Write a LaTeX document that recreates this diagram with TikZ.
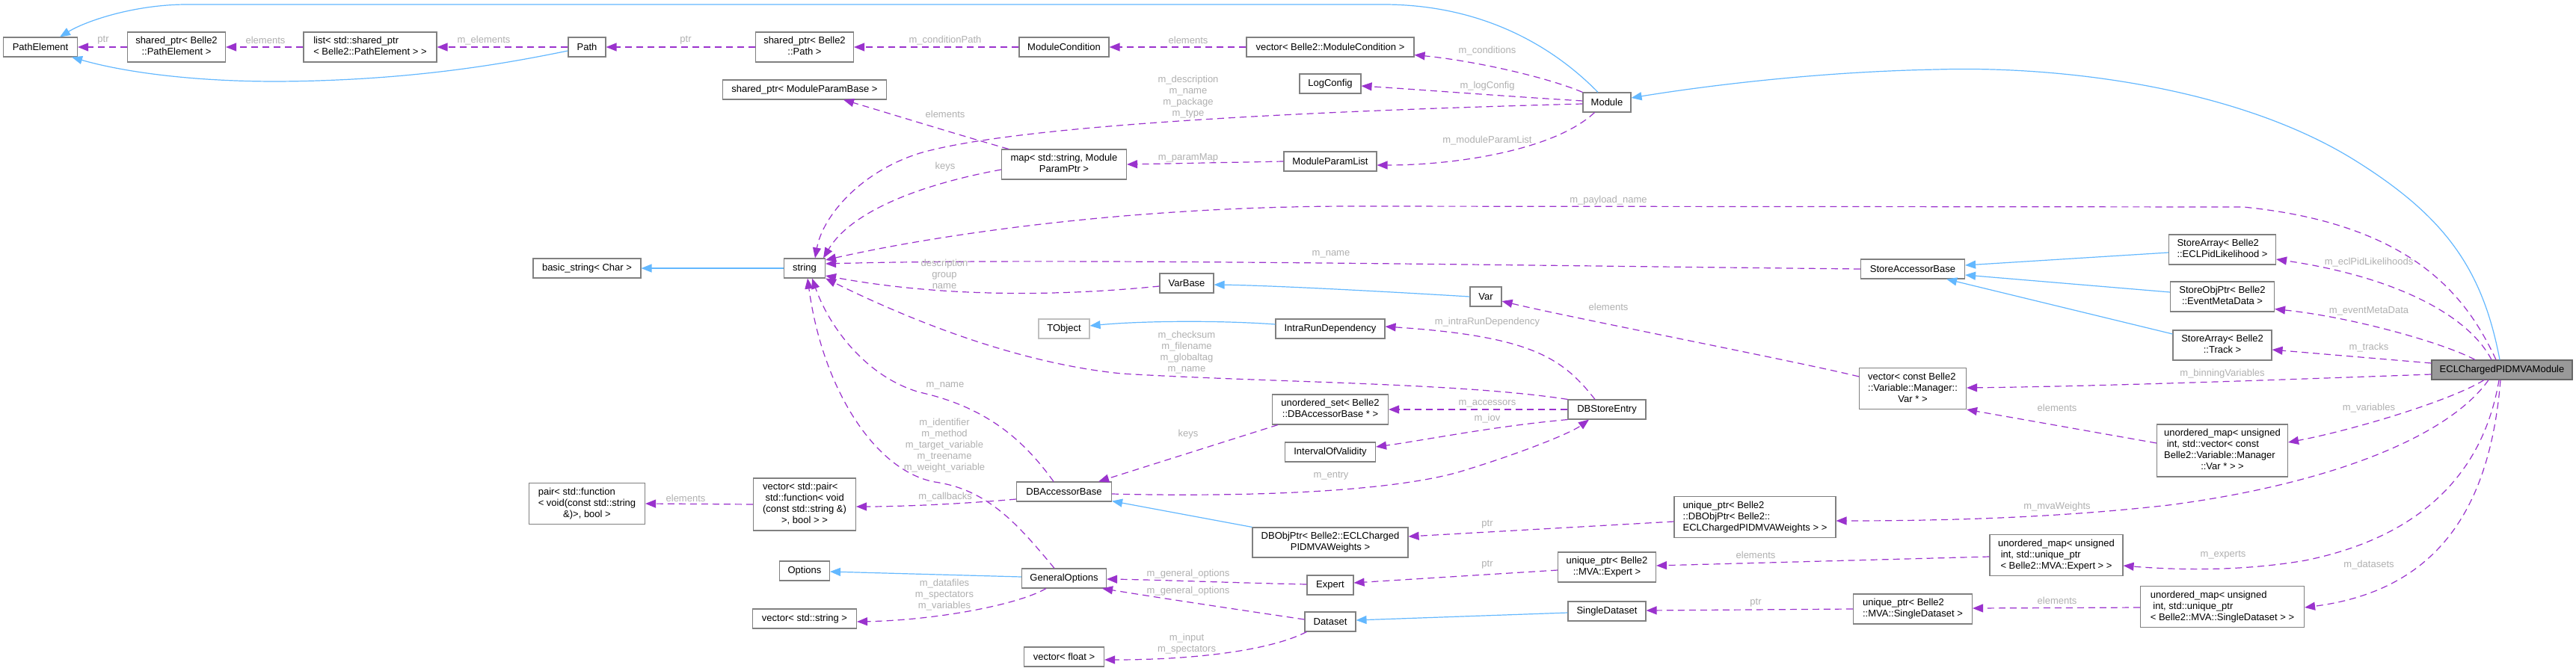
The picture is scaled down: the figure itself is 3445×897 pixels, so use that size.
\documentclass[tikz,border=0pt]{standalone}
\usepackage{fontspec}
\setmainfont{Liberation Sans}
\usetikzlibrary{arrows.meta,calc}
\definecolor{nodegray}{HTML}{808080}
\definecolor{extgray}{HTML}{BFBFBF}
\definecolor{maingray}{HTML}{999999}
\definecolor{mainborder}{HTML}{666666}
\definecolor{inhblue}{HTML}{63B8FF}
\definecolor{usepurple}{HTML}{9A32CD}
\definecolor{labgray}{HTML}{B0B0B0}
\newcommand{\mlab}[2]{\begin{tabular}{@{}l@{}}#1\\\multicolumn{1}{@{}c@{}}{#2}\end{tabular}}
\begin{document}
\begin{tikzpicture}[x=1pt,y=-1pt,
 box/.style={draw=nodegray, line width=1.1pt, fill=white, inner sep=0pt, font=\fontsize{13}{15}\selectfont, text=black},
 sz/.style 2 args={minimum width=#1pt, minimum height=#2pt},
 usedge/.style={draw=usepurple, line width=1.2pt, dash pattern=on 9pt off 6pt, -{Triangle[length=14pt,width=11pt]}},
 inhedge/.style={draw=inhblue, line width=1.2pt, -{Triangle[length=14pt,width=11pt]}},
 elab/.style={inner sep=0pt, text=labgray, font=\fontsize{13}{15}\selectfont, align=center}]
\useasboundingbox[fill=white] (0,0) rectangle (3445,897);

% nodes
\node[box,sz={99}{26}] (PE) at (54,63) {PathElement};
\node[box,sz={131}{40}] (spPE) at (236,63) {\mlab{shared\_ptr< Belle2}{::PathElement >}};
\node[box,sz={178}{40}] (listPE) at (495,63) {\mlab{list< std::shared\_ptr}{< Belle2::PathElement > >}};
\node[box,sz={50}{26}] (Path) at (785,63) {Path};
\node[box,sz={131}{40}] (spPath) at (1076,63) {\mlab{shared\_ptr< Belle2}{::Path >}};
\node[box,sz={219}{26}] (spMPB) at (1076,120) {shared\_ptr< ModuleParamBase >};
\node[box,sz={120}{26}] (MC) at (1423,63) {ModuleCondition};
\node[box,sz={224}{26}] (vecMC) at (1779,63) {vector< Belle2::ModuleCondition >};
\node[box,sz={82}{26}] (LogConfig) at (1779,112) {LogConfig};
\node[box,sz={64}{26}] (Module) at (2149,137) {Module};
\node[box,sz={167}{40}] (map) at (1423,220) {\mlab{map< std::string, Module}{ParamPtr >}};
\node[box,sz={124}{26}] (MPL) at (1779,216) {ModuleParamList};
\node[box,sz={144}{26}] (basic) at (785,359) {basic\_string< Char >};
\node[box,sz={55}{26}] (string) at (1076,359) {string};
\node[box,sz={72}{26}] (VarBase) at (1587,379) {VarBase};
\node[box,draw=extgray,sz={68}{26}] (TObject) at (1423,440) {TObject};
\node[box,sz={146}{26}] (IRD) at (1779,440) {IntraRunDependency};
\node[box,sz={42}{26}] (Var) at (1987,397) {Var};
\node[box,sz={139}{26}] (SAB) at (2558,360) {StoreAccessorBase};
\node[box,sz={143}{40}] (SAEcl) at (2972,334) {\mlab{StoreArray< Belle2}{::ECLPidLikelihood >}};
\node[box,sz={139}{40}] (SOP) at (2972,397) {\mlab{StoreObjPtr< Belle2}{::EventMetaData >}};
\node[box,sz={132}{40}] (SATrack) at (2972,462) {\mlab{StoreArray< Belle2}{::Track >}};
\node[box,draw=mainborder,fill=maingray,sz={188}{26}] (ECL) at (3346,495) {ECLChargedPIDMVAModule};
\node[box,sz={143}{55}] (vecVar) at (2558,520) {\mlab{vector< const Belle2\\::Variable::Manager::}{Var * >}};
\node[box,sz={175}{70}] (umapVar) at (2972,603) {\mlab{unordered\_map< unsigned\\\ int, std::vector< const\\Belle2::Variable::Manager}{::Var * > >}};
\node[box,sz={104}{26}] (DBSE) at (2149,548) {DBStoreEntry};
\node[box,sz={155}{40}] (uset) at (1779,548) {\mlab{unordered\_set< Belle2}{::DBAccessorBase * >}};
\node[box,sz={121}{26}] (IoV) at (1779,605) {IntervalOfValidity};
\node[box,sz={127}{26}] (DBAB) at (1423,658) {DBAccessorBase};
\node[box,sz={155}{55}] (pair) at (785,674) {\mlab{pair< std::function\\< void(const std::string}{\&)>, bool >}};
\node[box,sz={137}{70}] (vecPair) at (1076,675) {\mlab{vector< std::pair<\\\ std::function< void\\(const std::string \&)}{>, bool > >}};
\node[box,sz={208}{40}] (DBObjPtr) at (1779,726) {\mlab{DBObjPtr< Belle2::ECLCharged}{PIDMVAWeights >}};
\node[box,sz={216}{55}] (uDBObj) at (2347,692) {\mlab{unique\_ptr< Belle2\\::DBObjPtr< Belle2::}{ECLChargedPIDMVAWeights > >}};
\node[box,sz={67}{26}] (Options) at (1076,764) {Options};
\node[box,sz={113}{26}] (GO) at (1423,774) {GeneralOptions};
\node[box,sz={139}{26}] (vecString) at (1076,828) {vector< std::string >};
\node[box,sz={62}{26}] (Expert) at (1779,783) {Expert};
\node[box,sz={131}{40}] (uExpert) at (2149,759) {\mlab{unique\_ptr< Belle2}{::MVA::Expert >}};
\node[box,sz={178}{55}] (umapExpert) at (2750,743) {\mlab{unordered\_map< unsigned\\\ int, std::unique\_ptr}{< Belle2::MVA::Expert > >}};
\node[box,sz={68}{26}] (Dataset) at (1779,832) {Dataset};
\node[box,sz={104}{26}] (SD) at (2149,818) {SingleDataset};
\node[box,sz={159}{40}] (uSD) at (2558,815) {\mlab{unique\_ptr< Belle2}{::MVA::SingleDataset >}};
\node[box,sz={219}{55}] (umapSD) at (2972,812) {\mlab{unordered\_map< unsigned\\\ int, std::unique\_ptr}{< Belle2::MVA::SingleDataset > >}};
\node[box,sz={107}{26}] (vecFloat) at (1423,879) {vector< float >};

% inheritance edges
\draw[inhedge] ($(Module.north)+(-12,0)$) .. controls (2075,60) and (1980,6) .. (1850,6) -- (250,6) .. controls (180,6) and (115,28) .. ($(PE.north)+(26,0)$);
\draw[inhedge] ($(Path.west)+(0,5)$) .. controls (690,82) and (560,108) .. (370,109) .. controls (250,109) and (160,95) .. ($(PE.south east)+(-8,0)$);
\draw[inhedge] (string.west) -- (basic.east);
\draw[inhedge] ($(ECL.north)+(-3,0)$) .. controls (3320,360) and (3270,290) .. (3150,215) .. controls (2990,115) and (2750,88) .. (2590,93) .. controls (2430,96) and (2280,115) .. ($(Module.east)+(0,-6)$);
\draw[inhedge] (Var.west) .. controls (1850,390) and (1700,382) .. ($(VarBase.east)+(0,2)$);
\draw[inhedge] ($(IRD.west)+(0,-6)$) .. controls (1620,428) and (1520,430) .. ($(TObject.east)+(0,-4)$);
\draw[inhedge] (DBObjPtr.north west) -- ($(DBAB.south east)+(0,-1)$);
\draw[inhedge] ($(GO.west)+(0,-2)$) -- ($(Options.east)+(0,1)$);
\draw[inhedge] ($(SAEcl.west)+(0,4)$) -- ($(SAB.east)+(0,-5)$);
\draw[inhedge] ($(SOP.west)+(0,-6)$) -- ($(SAB.east)+(0,8)$);
\draw[inhedge] ($(SATrack.west)+(0,-15)$) -- ($(SAB.south east)+(-25,0)$);
\draw[inhedge] ($(SD.west)+(0,2)$) -- ($(Dataset.east)+(0,-2)$);

% usage edges
\draw[usedge] (spPE.west) -- (PE.east);
\draw[usedge] (listPE.west) -- (spPE.east);
\draw[usedge] (Path.west) -- (listPE.east);
\draw[usedge] (spPath.west) -- (Path.east);
\draw[usedge] (MC.west) -- (spPath.east);
\draw[usedge] (vecMC.west) -- (MC.east);
\draw[usedge] (Module.north west) .. controls (2060,100) and (1960,80) .. ($(vecMC.south east)+(0,-3)$);
\draw[usedge] ($(Module.west)+(0,-2)$) .. controls (2000,128) and (1900,120) .. ($(LogConfig.east)+(0,3)$);
\draw[usedge] ($(Module.west)+(0,2)$) .. controls (1700,150) and (1350,170) .. (1230,205) .. controls (1150,230) and (1100,290) .. ($(string.north)+(14,0)$);
\draw[usedge] ($(Module.south west)+(16,0)$) .. controls (2080,200) and (1950,221) .. ($(MPL.east)+(0,5)$);
\draw[usedge] (MPL.west) -- (map.east);
\draw[usedge] ($(map.north west)+(10,0)$) .. controls (1280,180) and (1200,155) .. ($(spMPB.south)+(52,0)$);
\draw[usedge] ($(map.west)+(0,7)$) .. controls (1240,245) and (1140,280) .. ($(string.north east)+(-3,0)$);
\draw[usedge] ($(ECL.north)+(-8,0)$) .. controls (3300,400) and (3230,300) .. (3000,277) -- (1800,276) .. controls (1500,277) and (1250,315) .. ($(string.east)+(0,-11)$);
\draw[usedge] (SAB.west) .. controls (2000,355) and (1400,345) .. ($(string.east)+(0,-6)$);
\draw[usedge] ($(VarBase.west)+(0,4)$) .. controls (1400,398) and (1250,396) .. ($(string.east)+(0,10)$);
\draw[usedge] (DBSE.north west) .. controls (1950,512) and (1700,512) .. (1500,500) .. controls (1350,485) and (1200,420) .. (string.south east);
\draw[usedge] ($(DBAB.north)+(-14,0)$) .. controls (1370,590) and (1320,545) .. (1230,525) .. controls (1160,505) and (1110,440) .. ($(string.south)+(10,0)$);
\draw[usedge] ($(GO.north)+(-13,0)$) .. controls (1360,700) and (1320,655) .. (1250,645) .. controls (1170,630) and (1100,520) .. ($(string.south)+(4,0)$);
\draw[usedge] ($(ECL.north)+(-14,0)$) .. controls (3300,420) and (3200,370) .. ($(SAEcl.east)+(0,13)$);
\draw[usedge] ($(ECL.north)+(-36,0)$) .. controls (3270,460) and (3150,425) .. ($(SOP.south east)+(0,-4)$);
\draw[usedge] ($(ECL.west)+(0,-9)$) -- ($(SATrack.east)+(0,6)$);
\draw[usedge] ($(ECL.west)+(0,6)$) .. controls (3000,510) and (2800,517) .. ($(vecVar.east)+(0,-1)$);
\draw[usedge] ($(vecVar.north west)+(0,12)$) .. controls (2400,483) and (2100,425) .. ($(Var.east)+(0,6)$);
\draw[usedge] ($(umapVar.west)+(0,-10)$) -- (vecVar.south east);
\draw[usedge] ($(ECL.south)+(-24,0)$) .. controls (3280,535) and (3150,575) .. ($(umapVar.east)+(0,-11)$);
\draw[usedge] ($(DBSE.north)+(-16,0)$) .. controls (2090,480) and (2050,450) .. ($(IRD.east)+(0,-3)$);
\draw[usedge] (DBSE.west) -- (uset.east);
\draw[usedge] (DBSE.south west) .. controls (2000,570) and (1900,590) .. ($(IoV.east)+(0,-7)$);
\draw[usedge] ($(DBAB.east)+(0,3)$) .. controls (1650,665) and (1850,660) .. (1950,632) .. controls (2030,608) and (2100,580) .. ($(DBSE.south)+(-24,0)$);
\draw[usedge] ($(uset.south west)+(8,0)$) -- ($(DBAB.north east)+(-18,0)$);
\draw[usedge] ($(DBAB.west)+(0,10)$) .. controls (1280,675) and (1200,678) .. ($(vecPair.east)+(0,3)$);
\draw[usedge] (vecPair.west) -- (pair.east);
\draw[usedge] ($(ECL.south)+(-18,0)$) .. controls (3270,590) and (3100,650) .. (2900,676) .. controls (2750,693) and (2600,697) .. ($(uDBObj.east)+(0,5)$);
\draw[usedge] ($(uDBObj.west)+(0,6)$) -- ($(DBObjPtr.east)+(0,-8)$);
\draw[usedge] ($(ECL.south)+(-4,0)$) .. controls (3320,640) and (3230,720) .. (3083,750) .. controls (2990,766) and (2900,762) .. ($(umapExpert.east)+(0,14)$);
\draw[usedge] ($(umapExpert.west)+(0,2)$) -- ($(uExpert.east)+(0,-2)$);
\draw[usedge] ($(uExpert.west)+(0,4)$) -- ($(Expert.east)+(0,-3)$);
\draw[usedge] ($(Expert.west)+(0,-1)$) .. controls (1650,780) and (1550,776) .. ($(GO.east)+(0,1)$);
\draw[usedge] ($(Dataset.west)+(0,-3)$) .. controls (1650,815) and (1550,800) .. ($(GO.south east)+(-6,0)$);
\draw[usedge] ($(GO.south)+(-24,0)$) .. controls (1360,810) and (1250,830) .. ($(vecString.east)+(0,4)$);
\draw[usedge] ($(Dataset.south west)+(3,0)$) .. controls (1700,870) and (1600,883) .. ($(vecFloat.east)+(0,4)$);
\draw[usedge] ($(ECL.south)+(-2,0)$) .. controls (3330,680) and (3260,790) .. ($(umapSD.east)+(0,1)$);
\draw[usedge] ($(umapSD.west)+(0,1)$) -- ($(uSD.east)+(0,-1)$);
\draw[usedge] (uSD.west) -- ($(SD.east)+(0,-1)$);

% edge labels
\node[elab] (l1) at (138,54) {ptr};
\node[elab] (l2) at (355,54) {elements};
\node[elab] (l3) at (647,54) {m\_elements};
\node[elab] (l4) at (917,54) {ptr};
\node[elab] (l5) at (1264,54) {m\_conditionPath};
\node[elab] (l6) at (1589,54) {elements};
\node[elab] (l7) at (1989,68) {m\_conditions};
\node[elab] (l8) at (1989,115) {m\_logConfig};
\node[elab] (l9) at (1589,130) {m\_description\\m\_name\\m\_package\\m\_type};
\node[elab] (l10) at (1989,188) {m\_moduleParamList};
\node[elab] (l11) at (1589,211) {m\_paramMap};
\node[elab] (l12) at (1264,153) {elements};
\node[elab] (l13) at (1264,223) {keys};
\node[elab] (l14) at (2151,268) {m\_payload\_name};
\node[elab] (l15) at (1780,340) {m\_name};
\node[elab] (l16) at (1263,367) {description\\group\\name};
\node[elab] (l17) at (1587,472) {m\_checksum\\m\_filename\\m\_globaltag\\m\_name};
\node[elab] (l18) at (1264,516) {m\_name};
\node[elab] (l19) at (1263,596) {m\_identifier\\m\_method\\m\_target\_variable\\m\_treename\\m\_weight\_variable};
\node[elab] (l20) at (1264,665) {m\_callbacks};
\node[elab] (l21) at (1589,581) {keys};
\node[elab] (l22) at (1780,637) {m\_entry};
\node[elab] (l23) at (1989,540) {m\_accessors};
\node[elab] (l24) at (1989,560) {m\_iov};
\node[elab] (l25) at (1989,431) {m\_intraRunDependency};
\node[elab] (l26) at (2151,411) {elements};
\node[elab] (l27) at (917,667) {elements};
\node[elab] (l28) at (1589,768) {m\_general\_options};
\node[elab] (l29) at (1589,791) {m\_general\_options};
\node[elab] (l30) at (1263,796) {m\_datafiles\\m\_spectators\\m\_variables};
\node[elab] (l31) at (1587,862) {m\_input\\m\_spectators};
\node[elab] (l32) at (1989,702) {ptr};
\node[elab] (l33) at (1989,756) {ptr};
\node[elab] (l34) at (2348,743) {elements};
\node[elab] (l35) at (2348,807) {ptr};
\node[elab] (l36) at (2751,546) {elements};
\node[elab] (l37) at (2972,500) {m\_binningVariables};
\node[elab] (l38) at (2751,678) {m\_mvaWeights};
\node[elab] (l39) at (2751,804) {elements};
\node[elab] (l40) at (2973,743) {m\_experts};
\node[elab] (l41) at (3168,351) {m\_eclPidLikelihoods};
\node[elab] (l42) at (3168,416) {m\_eventMetaData};
\node[elab] (l43) at (3168,465) {m\_tracks};
\node[elab] (l44) at (3168,546) {m\_variables};
\node[elab] (l45) at (3168,756) {m\_datasets};
\end{tikzpicture}
\end{document}
